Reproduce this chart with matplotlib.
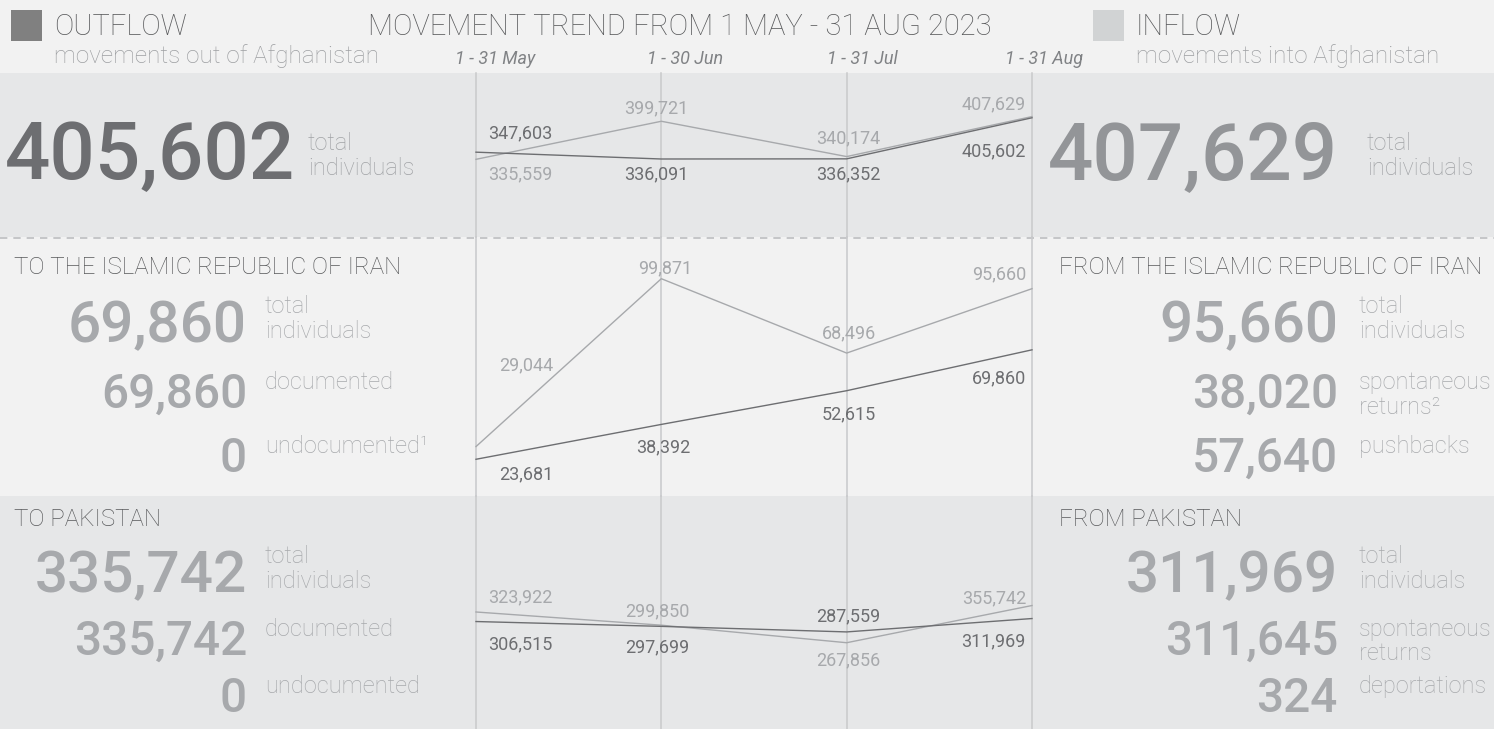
import matplotlib
matplotlib.use('Agg')
import matplotlib.pyplot as plt
from matplotlib.patches import Rectangle

plt.rcParams['font.family'] = ['Roboto', 'DejaVu Sans']

# --- data ---
months = ['1 - 31 May', '1 - 30 Jun', '1 - 31 Jul', '1 - 31 Aug']

total_out = [347603, 336091, 336352, 405602]
total_in = [335559, 399721, 340174, 407629]
iran_out = [23681, 38392, 52615, 69860]
iran_in = [29044, 99871, 68496, 95660]
pak_dark = [306515, 297699, 287559, 311969]
pak_light = [323922, 299850, 267856, 335742]
# the last label in the original reads 355,742 although the line sits at 335,742
pak_light_text = ['323,922', '299,850', '267,856', '355,742']

out_total = 405602
in_total = 407629
to_iran = [69860, 69860, 0]
to_iran_labels = ['total\nindividuals', 'documented', 'undocumented¹']
from_iran = [95660, 38020, 57640]
from_iran_labels = ['total\nindividuals', 'spontaneous\nreturns²', 'pushbacks']
to_pak = [335742, 335742, 0]
to_pak_labels = ['total\nindividuals', 'documented', 'undocumented']
from_pak = [311969, 311645, 324]
from_pak_labels = ['total\nindividuals', 'spontaneous\nreturns', 'deportations']

# --- colours ---
DARK = '#6d6e71'
LIGHT = '#a7a9ac'
SUB = '#9d9fa2'
HEAD = '#58595b'
BAND = '#e6e7e8'
PALE = '#f2f2f2'
GRID = '#c8c9cb'

W, H = 1494, 729
PX = 0.72  # points per pixel at dpi 100

fig = plt.figure(figsize=(W / 100, H / 100), dpi=100)
fig.patch.set_facecolor(PALE)

bg = fig.add_axes([0, 0, 1, 1])
bg.set_xlim(0, W)
bg.set_ylim(H, 0)
bg.axis('off')

# bands
bg.add_patch(Rectangle((0, 73), W, 164, color=BAND, lw=0))
bg.add_patch(Rectangle((0, 496), W, H - 496, color=BAND, lw=0))
bg.plot([0, W], [237.5, 237.5], color='#bcbec0', lw=1.2, ls=(0, (4.4, 3.6)))

# header
bg.add_patch(Rectangle((11, 10), 31, 31, color='#808080', lw=0))
bg.add_patch(Rectangle((1093, 10), 31, 31, color='#d1d3d4', lw=0))
bg.text(54, 35, 'OUTFLOW', fontsize=20.8, fontweight='light', color=HEAD, va='baseline')
bg.text(54, 63, 'movements out of Afghanistan', fontsize=17.5, fontweight='light', color=SUB, va='baseline')
bg.text(1136, 35, 'INFLOW', fontsize=20.8, fontweight='light', color=HEAD, va='baseline')
bg.text(1136, 63, 'movements into Afghanistan', fontsize=17.5, fontweight='light', color=SUB, va='baseline')
bg.text(368, 35, 'MOVEMENT TREND FROM 1 MAY - 31 AUG 2023', fontsize=21, fontweight='light', color=HEAD,
        va='baseline')
month_x = [495, 685, 862, 1044]
for mx, m in zip(month_x, months):
    bg.text(mx, 64, m, fontsize=13, style='italic', color='#808285', ha='center', va='baseline')

# section headers
for x, y, t in [(14, 274, 'TO THE ISLAMIC REPUBLIC OF IRAN'), (1059, 274, 'FROM THE ISLAMIC REPUBLIC OF IRAN'),
                (14, 526, 'TO PAKISTAN'), (1059, 526, 'FROM PAKISTAN')]:
    bg.text(x, y, t, fontsize=17.4, fontweight='light', color=HEAD, va='baseline')


def label(x, base, text, first_off, color=LIGHT):
    y = base + first_off
    for ln in text.split('\n'):
        bg.text(x, y, ln, fontsize=17, fontweight='light', color=color, va='baseline')
        y += 24.5


# totals
bg.text(295, 179, f'{out_total:,}', fontsize=80 * PX, fontweight='medium', color=DARK, ha='right', va='baseline')
label(308, 179, 'total\nindividuals', -29, '#a0a2a5')
bg.text(1338, 179, f'{in_total:,}', fontsize=80 * PX, fontweight='medium', color='#939598', ha='right',
        va='baseline')
label(1367, 179, 'total\nindividuals', -29, '#a0a2a5')


def block(x_num, x_lab, baselines, values, labels):
    for i, (b, v, t) in enumerate(zip(baselines, values, labels)):
        size = 58.5 if i == 0 else 47.8
        bg.text(x_num, b, f'{v:,}', fontsize=size * PX, fontweight='medium', color=LIGHT, ha='right',
                va='baseline')
        label(x_lab, b, t, -29 if i == 0 else -19)


iran_rows = [342, 408, 472]
pak_rows = [592, 655, 712]
block(247, 265, iran_rows, to_iran, to_iran_labels)
block(1338, 1359, iran_rows, from_iran, from_iran_labels)
block(247, 265, pak_rows, to_pak, to_pak_labels)
block(1338, 1359, pak_rows, from_pak, from_pak_labels)


# --- trend charts, one axes per band ---
def band_axes(top, bottom, ylim):
    ax = fig.add_axes([476 / W, 1 - bottom / H, (1032 - 476) / W, (bottom - top) / H])
    ax.set_xlim(0, len(months) - 1)
    ax.set_ylim(*ylim)
    ax.axis('off')
    ax.patch.set_alpha(0)
    for i in range(len(months)):
        ax.axvline(i, color=GRID, lw=1.1, clip_on=False, zorder=1)
    return ax


def series(ax, values, texts, color, offsets):
    x = range(len(values))
    ax.plot(x, values, color=color, lw=1.0, zorder=3, clip_on=False)
    for i, (v, t, (dx, dy)) in enumerate(zip(values, texts, offsets)):
        ha = 'left' if i == 0 else ('right' if i == len(values) - 1 else 'center')
        ax.annotate(t, (i, v), xytext=(dx, -dy), textcoords='offset pixels', ha=ha, va='baseline',
                    fontsize=13, color=color, zorder=4)


fmt = lambda vals: [f'{v:,}' for v in vals]

ax1 = band_axes(73, 237, (204553, 481113))
series(ax1, total_in, fmt(total_in), LIGHT, [(12, 20), (-5, -8), (2, -13), (-6, -7)])
series(ax1, total_out, fmt(total_out), DARK, [(12, -14), (-5, 20.5), (2, 21), (-6, 38.5)])

ax2 = band_axes(237, 496, (8186, 117468))
series(ax2, iran_in, fmt(iran_in), LIGHT, [(23, -76.5), (4, -5), (2, -15), (-6, -9)])
series(ax2, iran_out, fmt(iran_out), DARK, [(23, 20.5), (2, 28), (2, 28.5), (-6, 34)])

ax3 = band_axes(496, 729, (110401, 535584))
series(ax3, pak_light, pak_light_text, LIGHT, [(12, -9.5), (-4, -8.5), (2, 23), (-6, -2.5)])
series(ax3, pak_dark, fmt(pak_dark), DARK, [(12, 28), (-4, 25.5), (2, -10.5), (-6, 28)])

fig.savefig('out.png', dpi=100, facecolor=fig.get_facecolor())
